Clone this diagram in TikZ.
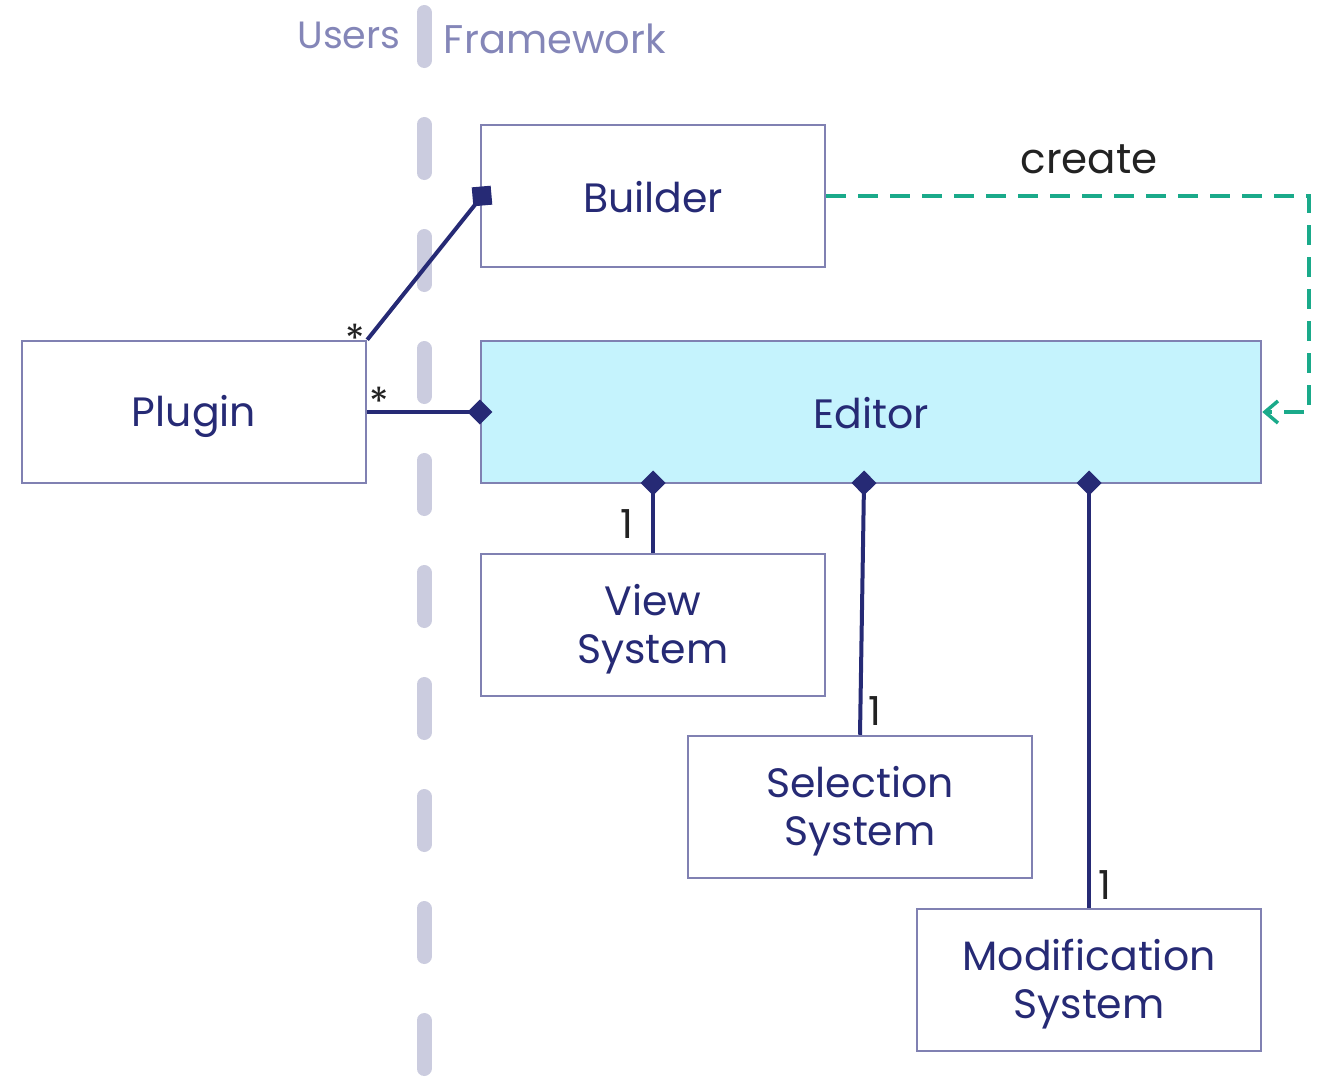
\documentclass[tikz,border=0pt]{standalone}
\usepackage{fontspec}
\setmainfont{Poppins}
\usetikzlibrary{arrows.meta}
\definecolor{navy}{HTML}{262A75}
\definecolor{boxline}{HTML}{8081B2}
\definecolor{sepgray}{HTML}{CBCCDF}
\definecolor{lanetext}{HTML}{8486B8}
\definecolor{createline}{HTML}{1AAA8A}
\definecolor{editorfill}{HTML}{C5F3FD}
\definecolor{multtext}{HTML}{222222}
% fixed line box: 40pt above the baseline, 8pt below
\newcommand\linestrut{\rule[-8pt]{0pt}{48pt}}
\begin{document}
\begin{tikzpicture}[x=1pt,y=-1pt,
  classbox/.style={draw=boxline, line width=2.5pt, minimum width=344pt,
    minimum height=142pt, text=navy, align=center, inner sep=0pt,
    font=\fontsize{41}{48}\selectfont},
  lanelabel/.style={text=lanetext, inner sep=0pt},
  assoc/.style={draw=navy, line width=4pt},
  mult/.style={text=multtext, inner sep=0pt, font=\fontsize{40}{48}\selectfont},
  star/.style={text=multtext, inner sep=0pt, font=\fontsize{40}{48}\selectfont},
  comptip/.tip={Diamond[length=25pt,width=25pt]}
]
\useasboundingbox (0,0) rectangle (1329,1076);

% swimlane separator
\draw[sepgray, line width=15pt, line cap=round, dash pattern=on 48pt off 64pt]
  (424,12.5) -- (424,1069);
\node[lanelabel, font=\fontsize{38}{48}\selectfont] (users) at (349,32) {Users\linestrut};
\node[lanelabel, font=\fontsize{40}{48}\selectfont] (framework) at (555,37) {Framework\linestrut};

% classes
\node[classbox] (builder) at (653,196) {Builder\linestrut};
\node[classbox] (plugin) at (194,412) {Plugin\linestrut};
\node[classbox, fill=editorfill, minimum width=780pt] (editor) at (871,412) {Editor\linestrut};
\node[classbox] (view) at (653,625) {View\linestrut\\System\linestrut};
\node[classbox] (selection) at (860,807) {Selection\linestrut\\System\linestrut};
\node[classbox] (modification) at (1089,980) {Modification\linestrut\\System\linestrut};

% points on the editor's lower edge
\coordinate (dview) at (653,483);
\coordinate (dsel) at (864,483);
\coordinate (dmod) at (1089,483);

% plugin associations
\coordinate (bsq) at (482,196);
\draw[assoc] (plugin.north east) -- (bsq);
\node[fill=navy, minimum size=19pt, inner sep=0pt, rotate=5] (sq) at (bsq) {};
\draw[assoc, -comptip, shorten >=-12.5pt] (plugin.east) -- (editor.west);
\node[star] (m1) at (355,339) {*};
\node[star] (m2) at (379,402) {*};

% editor compositions
\draw[assoc, comptip-, shorten <=-12.5pt] (dview) -- (view.north);
\draw[assoc, comptip-, shorten <=-12.5pt] (dsel) -- (selection.north);
\draw[assoc, comptip-, shorten <=-12.5pt] (dmod) -- (modification.north);
\node[mult] (n1) at (627,522) {1\linestrut};
\node[mult] (n2) at (875,709) {1\linestrut};
\node[mult] (n3) at (1105,883) {1\linestrut};

% builder creates the editor
\coordinate (bend) at (1309,196);
\draw[createline, line width=3.5pt, dash pattern=on 20pt off 12pt,
  -{Straight Barb[length=13pt,width=22pt,line width=3.5pt]}]
  (builder.east) -- (bend) |- (editor.east);
\node[text=multtext, inner sep=0pt, font=\fontsize{42}{48}\selectfont] (create) at (1089,157) {create\linestrut};
\end{tikzpicture}
\end{document}
